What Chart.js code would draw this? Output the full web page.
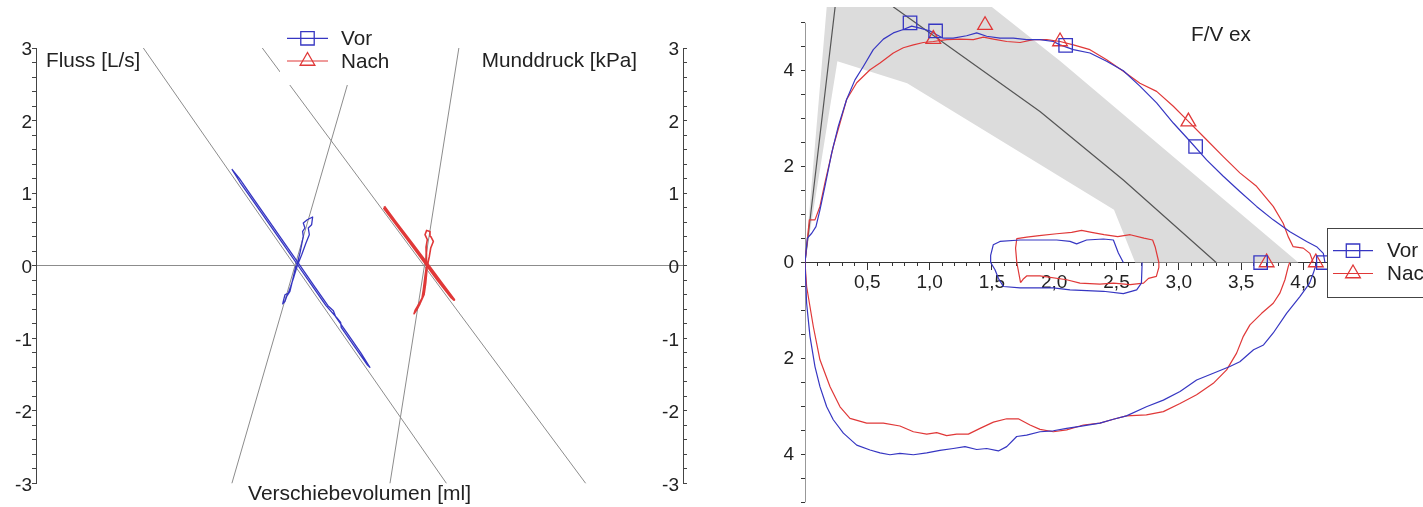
<!DOCTYPE html>
<html><head><meta charset="utf-8">
<script src="https://cdn.jsdelivr.net/npm/chart.js@4.4.0/dist/chart.umd.min.js"></script>
<style>
html,body{margin:0;padding:0;background:#fff;overflow:hidden;width:1423px;height:507px}
#left{position:absolute;left:0;top:0}
#right{position:absolute;left:760px;top:0}
</style></head><body>
<canvas id="left" width="720" height="507"></canvas>
<canvas id="right" width="663" height="507"></canvas>
<script>
// ---------- LEFT CHART DATA (x: shift volume, arbitrary units; y: flow / mouth pressure) ----------
const refLine1 = [[-2.98,3],[1.20,-3]];
const refLine2 = [[-1.34,3],[3.12,-3]];
const refLine3 = [[-0.02,3],[-1.76,-3]];
const refLine4 = [[1.37,3],[0.42,-3]];

const vorResistance = [[-1.76,1.33],[-1.654,1.20],[-1.48,0.95],[-1.306,0.70],[-1.097,0.40],[-0.888,0.10],[-0.783,-0.05],[-0.609,-0.30],[-0.435,-0.55],[-0.36,-0.62],[-0.33,-0.70],[-0.156,-0.95],[0.018,-1.20],[0.143,-1.40],[0.103,-1.36],[-0.078,-1.10],[-0.252,-0.85],[-0.26,-0.78],[-0.31,-0.72],[-0.462,-0.55],[-0.671,-0.25],[-0.845,0.0],[-1.054,0.30],[-1.263,0.60],[-1.472,0.90],[-1.647,1.15],[-1.76,1.33]];
const vorShutter = [[-0.866,0],[-0.821,0.175],[-0.775,0.404],[-0.784,0.473],[-0.752,0.52],[-0.775,0.589],[-0.72,0.634],[-0.646,0.672],[-0.66,0.566],[-0.706,0.52],[-0.692,0.428],[-0.738,0.313],[-0.797,0.152],[-0.858,0],[-0.903,-0.147],[-0.949,-0.285],[-0.982,-0.377],[-1.028,-0.40],[-1.051,-0.492],[-1.059,-0.524],[-1.028,-0.492],[-1.004,-0.423],[-0.959,-0.354],[-0.921,-0.193],[-0.876,0]];
const nachResistance = [[0.34,0.818],[0.50,0.60],[0.73,0.30],[0.955,0.0],[1.141,-0.25],[1.304,-0.469],[1.27,-0.44],[1.08,-0.20],[0.86,0.10],[0.637,0.40],[0.41,0.70],[0.335,0.80]];
const nachShutter = [[0.935,0],[0.963,0.128],[0.982,0.244],[1.018,0.335],[0.982,0.404],[0.972,0.473],[0.926,0.487],[0.903,0.428],[0.935,0.359],[0.917,0.258],[0.926,0.128],[0.921,0],[0.903,-0.147],[0.88,-0.331],[0.862,-0.446],[0.811,-0.538],[0.766,-0.616],[0.752,-0.662],[0.789,-0.607],[0.834,-0.524],[0.89,-0.40],[0.913,-0.239],[0.935,0]];

// ---------- RIGHT CHART DATA (x: volume L, y: flow L/s) ----------
const predBand = [[0,0],[0.25,7.65],[0.5,7.5],[1.5,5.33],[2.05,4.2],[3.96,0],[2.65,0],[2.48,1.10],[0.82,3.74],[0.26,4.20],[0,0]];
const predLine = [[0,0],[0.34,7.5],[0.71,5.33],[1.886,3.15],[2.555,1.72],[3.30,0]];
const flowAxisLine = [[0,-5],[0,5]];

const vorExp = [[0,0],[0.019,0.51],[0.054,0.61],[0.088,0.75],[0.12,1.10],[0.16,1.59],[0.214,2.28],[0.267,2.84],[0.334,3.40],[0.401,3.81],[0.468,4.09],[0.548,4.44],[0.629,4.66],[0.709,4.79],[0.789,4.86],[0.856,4.93],[0.923,4.89],[1.003,4.83],[1.057,4.75],[1.11,4.68],[1.19,4.68],[1.297,4.73],[1.378,4.79],[1.458,4.72],[1.565,4.68],[1.672,4.68],[1.779,4.65],[1.886,4.65],[1.993,4.61],[2.047,4.54],[2.154,4.44],[2.287,4.37],[2.421,4.20],[2.555,4.00],[2.688,3.68],[2.822,3.33],[2.956,2.91],[3.09,2.53],[3.223,2.14],[3.357,1.80],[3.49,1.48],[3.624,1.17],[3.758,0.89],[3.892,0.64],[4.026,0.44],[4.106,0.33],[4.16,0.19],[4.173,0]];
const nachExp = [[0,0],[0.013,0.33],[0.035,0.89],[0.08,0.89],[0.12,1.17],[0.16,1.66],[0.227,2.42],[0.281,2.91],[0.334,3.40],[0.415,3.75],[0.522,4.02],[0.602,4.16],[0.709,4.37],[0.789,4.48],[0.87,4.54],[0.95,4.59],[1.03,4.61],[1.137,4.65],[1.244,4.66],[1.351,4.65],[1.432,4.70],[1.512,4.66],[1.619,4.61],[1.726,4.59],[1.833,4.65],[1.94,4.65],[2.047,4.61],[2.154,4.54],[2.287,4.44],[2.421,4.23],[2.555,3.99],[2.688,3.74],[2.822,3.57],[2.956,3.26],[3.063,2.98],[3.223,2.56],[3.357,2.21],[3.49,1.87],[3.624,1.59],[3.758,1.17],[3.838,0.82],[3.878,0.54],[3.918,0.33],[3.999,0.30],[4.052,0.19],[4.079,0]];
const vorInsp = [[0,0],[0.013,-0.85],[0.04,-1.54],[0.08,-2.17],[0.12,-2.59],[0.174,-3.01],[0.227,-3.28],[0.308,-3.56],[0.415,-3.81],[0.522,-3.91],[0.602,-3.97],[0.682,-4.01],[0.762,-3.98],[0.87,-4.01],[0.977,-3.97],[1.083,-3.92],[1.19,-3.88],[1.284,-3.84],[1.378,-3.90],[1.458,-3.88],[1.552,-3.93],[1.619,-3.84],[1.699,-3.63],[1.779,-3.60],[1.886,-3.53],[1.993,-3.51],[2.10,-3.46],[2.207,-3.42],[2.367,-3.35],[2.475,-3.27],[2.58,-3.20],[2.74,-3.01],[2.876,-2.87],[3.01,-2.69],[3.143,-2.45],[3.277,-2.31],[3.41,-2.17],[3.49,-2.07],[3.60,-1.82],[3.68,-1.72],[3.758,-1.47],[3.865,-1.06],[3.972,-0.71],[4.05,-0.43],[4.08,-0.22],[4.107,0]];
const nachInsp = [[0,0],[0.013,-0.50],[0.067,-1.34],[0.12,-2.03],[0.201,-2.59],[0.281,-3.01],[0.361,-3.25],[0.495,-3.35],[0.629,-3.35],[0.762,-3.41],[0.87,-3.53],[0.977,-3.58],[1.057,-3.55],[1.137,-3.61],[1.217,-3.58],[1.311,-3.58],[1.405,-3.46],[1.512,-3.33],[1.619,-3.26],[1.712,-3.26],[1.806,-3.39],[1.886,-3.48],[1.993,-3.53],[2.10,-3.49],[2.234,-3.39],[2.367,-3.35],[2.475,-3.27],[2.58,-3.20],[2.74,-3.18],[2.876,-3.11],[3.01,-2.94],[3.143,-2.76],[3.277,-2.52],[3.384,-2.24],[3.464,-1.89],[3.518,-1.54],[3.571,-1.30],[3.665,-1.06],[3.758,-0.85],[3.811,-0.64],[3.852,-0.36],[3.879,-0.08],[3.89,0]];
const vorTidal = [[2.555,0],[2.515,0.20],[2.475,0.47],[2.395,0.49],[2.26,0.47],[2.18,0.39],[2.127,0.44],[2.02,0.47],[1.859,0.47],[1.726,0.47],[1.565,0.44],[1.511,0.37],[1.49,0.15],[1.49,0],[1.525,-0.15],[1.552,-0.33],[1.592,-0.50],[1.726,-0.53],[1.859,-0.53],[1.993,-0.53],[2.127,-0.57],[2.395,-0.60],[2.555,-0.65],[2.662,-0.57],[2.70,-0.43],[2.706,0]];
const nachTidal = [[1.73,-0.42],[1.70,0],[1.69,0.30],[1.70,0.50],[1.78,0.53],[1.88,0.56],[2.02,0.60],[2.14,0.63],[2.22,0.67],[2.30,0.63],[2.40,0.58],[2.51,0.54],[2.61,0.58],[2.72,0.51],[2.79,0.47],[2.81,0.33],[2.84,0],[2.84,-0.10],[2.82,-0.29],[2.757,-0.33],[2.717,-0.43],[2.61,-0.46],[2.475,-0.43],[2.367,-0.45],[2.207,-0.43],[2.10,-0.36],[1.886,-0.28],[1.779,-0.28],[1.75,-0.35],[1.73,-0.42]];
const vorMarkers = [[0.843,5.0],[1.048,4.83],[2.092,4.53],[3.135,2.42],[3.657,0],[4.16,0]];
const nachMarkers = [[1.445,4.95],[1.03,4.66],[2.047,4.61],[3.077,2.94],[3.705,0],[4.10,0]];

const seriesLabels = ['Vor', 'Nach'];

// ---------- STYLE ----------
const BLUE = '#3636c2', RED = '#e03838', GRAY = '#8c8c8c', AXIS = '#444';
const FONT = '"Liberation Sans", Arial, Helvetica, sans-serif';
const TEXT_FONT = '20.7px ' + FONT;
Chart.defaults.font.family = FONT;
Chart.defaults.color = '#222';

const toXY = a => a.map(p => ({x: p[0], y: p[1]}));
function lineDs(data, color, width, order) {
  return {data: toXY(data), showLine: true, borderColor: color, backgroundColor: color,
    borderWidth: width, pointRadius: 0, pointHoverRadius: 0, fill: false, order: order,
    tension: 0, borderJoinStyle: 'round'};
}
function markerDs(data, color, style, r) {
  return {data: toXY(data), showLine: false, pointStyle: style, pointRadius: r, pointHoverRadius: r,
    pointBorderColor: color, pointBackgroundColor: 'rgba(0,0,0,0)', pointBorderWidth: 1.3, order: 0};
}
function zeroPad(s) { s.paddingTop = 0; s.paddingBottom = 0; s.paddingLeft = 0; s.paddingRight = 0; }
const near = (a, b) => Math.abs(a - b) < 1e-6;

function drawMarker(ctx, style, x, y, r, color) {
  ctx.save();
  ctx.strokeStyle = color; ctx.lineWidth = 1.3;
  ctx.beginPath();
  if (style === 'rect') {
    const s = r * Math.SQRT1_2;
    ctx.rect(x - s, y - s, 2 * s, 2 * s);
  } else {
    for (let i = 0; i < 3; i++) {
      const a = i * 2 * Math.PI / 3;
      const px = x + Math.sin(a) * r, py = y - Math.cos(a) * r;
      if (i === 0) ctx.moveTo(px, py); else ctx.lineTo(px, py);
    }
    ctx.closePath();
  }
  ctx.stroke();
  ctx.restore();
}

const overlayPlugin = {
  id: 'overlay',
  afterDraw(chart, args, opts) {
    const ctx = chart.ctx;
    ctx.save();
    ctx.font = TEXT_FONT;
    ctx.textBaseline = 'middle';
    (opts.texts || []).forEach(t => {
      ctx.fillStyle = '#222'; ctx.textAlign = t.align; ctx.fillText(t.text, t.x, t.y);
    });
    const L = opts.legend;
    if (L) {
      ctx.fillStyle = '#fff';
      ctx.fillRect(L.x, L.y, L.w, L.h);
      if (L.border) { ctx.strokeStyle = AXIS; ctx.lineWidth = 1; ctx.strokeRect(L.x + 0.5, L.y + 0.5, L.w, L.h); }
      L.items.forEach((it, i) => {
        const y = L.rows[i];
        ctx.strokeStyle = it.color; ctx.lineWidth = 1.2;
        ctx.beginPath(); ctx.moveTo(L.x0, y); ctx.lineTo(L.x1, y); ctx.stroke();
        drawMarker(ctx, it.style, (L.x0 + L.x1) / 2, y, it.r, it.color);
        ctx.fillStyle = '#222'; ctx.textAlign = 'left';
        ctx.fillText(it.label, L.textX, y + 1);
      });
    }
    ctx.restore();
  }
};

const legendItems = [
  {label: seriesLabels[0], color: BLUE, style: 'rect', r: 9.5},
  {label: seriesLabels[1], color: RED, style: 'triangle', r: 8.5}
];

// ---------- LEFT CHART ----------
new Chart(document.getElementById('left'), {
  type: 'scatter',
  data: {datasets: [
    lineDs(vorResistance, BLUE, 1.3, 1),
    lineDs(vorShutter, BLUE, 1.3, 1),
    lineDs(nachResistance, RED, 2.4, 1),
    lineDs(nachShutter, RED, 1.6, 1),
    lineDs(refLine1, GRAY, 1, 5),
    lineDs(refLine2, GRAY, 1, 5),
    lineDs(refLine3, GRAY, 1, 5),
    lineDs(refLine4, GRAY, 1, 5)
  ]},
  options: {
    responsive: false, animation: false, events: [],
    layout: {autoPadding: false, padding: {top: 48, left: 0, right: 0, bottom: 0}},
    plugins: {
      legend: {display: false}, tooltip: {enabled: false},
      overlay: {
        texts: [
          {text: 'Fluss [L/s]', x: 46, y: 61, align: 'left'},
          {text: 'Munddruck [kPa]', x: 637, y: 61, align: 'right'}
        ],
        legend: {x: 280, y: 22, w: 118, h: 63, border: false, rows: [38.3, 61], x0: 287, x1: 328, textX: 341, items: legendItems}
      }
    },
    scales: {
      x: {type: 'linear', min: -4.46, max: 4.46,
        grid: {display: false}, border: {display: false}, ticks: {display: false},
        title: {display: true, text: 'Verschiebevolumen [ml]', font: {size: 21}, color: '#222', padding: 0},
        afterFit(s) { s.height = 23.5; zeroPad(s); }},
      y: {type: 'linear', position: 'left', min: -3, max: 3,
        ticks: {stepSize: 0.2, autoSkip: false, padding: 0, labelOffset: 2, font: {size: 19}, color: '#222',
          callback: v => near(v, Math.round(v)) ? String(Math.round(v)) : ''},
        grid: {drawOnChartArea: true, tickLength: 4, tickColor: AXIS,
          color: c => (c.tick && near(c.tick.value, 0)) ? GRAY : 'rgba(0,0,0,0)'},
        border: {color: AXIS},
        afterFit(s) { s.width = 36; zeroPad(s); }},
      y2: {type: 'linear', position: 'right', min: -3, max: 3,
        ticks: {stepSize: 0.2, autoSkip: false, mirror: true, padding: -4, labelOffset: 2, font: {size: 19}, color: '#222',
          callback: v => near(v, Math.round(v)) ? String(Math.round(v)) : ''},
        grid: {drawOnChartArea: false, tickLength: 4, tickColor: AXIS},
        border: {color: AXIS},
        afterFit(s) { s.width = 37; zeroPad(s); }}
    }
  },
  plugins: [overlayPlugin]
});

// ---------- RIGHT CHART ----------
new Chart(document.getElementById('right'), {
  type: 'scatter',
  data: {datasets: [
    markerDs(vorMarkers, BLUE, 'rect', 9.5),
    markerDs(nachMarkers, RED, 'triangle', 8.5),
    lineDs(vorExp, BLUE, 1.2, 2),
    lineDs(vorInsp, BLUE, 1.2, 2),
    lineDs(vorTidal, BLUE, 1.2, 2),
    lineDs(nachExp, RED, 1.2, 2),
    lineDs(nachInsp, RED, 1.2, 2),
    lineDs(nachTidal, RED, 1.2, 2),
    lineDs(flowAxisLine, '#333', 1, 3),
    lineDs(predLine, '#555', 1.2, 4),
    {data: toXY(predBand), showLine: true, borderWidth: 0, borderColor: 'rgba(0,0,0,0)',
      backgroundColor: '#dcdcdc', fill: 'shape', pointRadius: 0, pointHoverRadius: 0, order: 10, tension: 0}
  ]},
  options: {
    responsive: false, animation: false, events: [],
    layout: {autoPadding: false, padding: {top: 7, left: 0, right: 0, bottom: 0}},
    plugins: {
      legend: {display: false}, tooltip: {enabled: false},
      overlay: {
        texts: [{text: 'F/V ex', x: 431, y: 35, align: 'left'}],
        legend: {x: 567, y: 228, w: 120, h: 69, border: true, rows: [250.7, 273.5], x0: 573, x1: 613, textX: 627, items: legendItems}
      }
    },
    scales: {
      x: {type: 'linear', position: {y: 0}, min: 0, max: 4.96,
        ticks: {stepSize: 0.1, display: false, includeBounds: false, autoSkip: false},
        grid: {drawOnChartArea: false, tickLength: 3, tickColor: '#333'},
        border: {color: '#333'},
        afterFit(s) { zeroPad(s); }},
      xMajor: {type: 'linear', position: {y: 0}, min: 0, max: 4.96,
        ticks: {stepSize: 0.5, includeBounds: false, autoSkip: false, maxRotation: 0, padding: 2,
          font: {size: 19}, color: '#222',
          callback: v => v > 0.01 ? v.toFixed(1).replace('.', ',') : ''},
        grid: {drawOnChartArea: false, tickLength: 7, tickColor: '#333'},
        border: {display: false},
        afterFit(s) { zeroPad(s); }},
      y: {type: 'linear', position: 'left', min: -5.1, max: 5.33,
        ticks: {stepSize: 0.5, includeBounds: false, autoSkip: false, padding: 7, font: {size: 19}, color: '#222',
          callback: v => near(v / 2, Math.round(v / 2)) ? String(Math.abs(Math.round(v))) : ''},
        grid: {drawOnChartArea: false, tickLength: 4, tickColor: '#333'},
        border: {display: false},
        afterFit(s) { s.width = 45; zeroPad(s); }}
    }
  },
  plugins: [overlayPlugin]
});
</script>
</body></html>
